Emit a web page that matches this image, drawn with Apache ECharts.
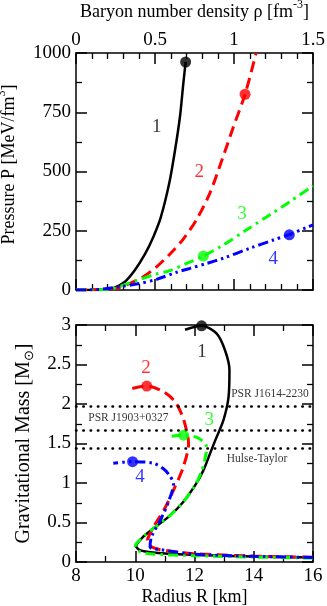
<!DOCTYPE html>
<html><head><meta charset="utf-8">
<script src="https://cdn.jsdelivr.net/npm/echarts@6/dist/echarts.min.js"></script>
<style>html,body{margin:0;padding:0;background:#fff}#c{width:327px;height:606px}</style>
</head><body><div id="c"></div>
<script>
// ---------- DATA ----------
// Top panel: [baryon density rho (fm^-3), pressure P (MeV/fm^3)]
const eos1Pressure = [[0,0],[0.1,0.5],[0.17,2],[0.236,8],[0.31,35],[0.373,84],[0.437,152],[0.49,225],[0.536,305],[0.59,450],[0.627,591],[0.658,731],[0.679,870],[0.694,962]];
const eos2Pressure = [[0,0],[0.1,0.5],[0.17,2],[0.258,8],[0.342,28],[0.426,56],[0.51,98],[0.595,152],[0.679,215],[0.764,298],[0.848,410],[0.922,545],[0.996,688],[1.07,826],[1.14,1000]];
const eos3Pressure = [[0,0],[0.1,0.5],[0.17,2],[0.236,6],[0.32,25],[0.405,45],[0.49,64],[0.595,82],[0.7,112],[0.806,143],[0.932,190],[1.08,254],[1.228,318],[1.354,373],[1.5,439]];
const eos4Pressure = [[0,0],[0.1,1],[0.17,4],[0.278,14],[0.384,25],[0.51,45],[0.637,75],[0.72,91],[0.827,112],[0.932,134],[1.1,176],[1.249,211],[1.35,234],[1.46,264],[1.5,275]];
const pressureDots = [[0.694,962],[1.07,826],[0.806,143],[1.35,233]];
const pressureLabels = [[0.511,689,'1'],[0.78,499,'2'],[1.05,321,'3'],[1.249,130,'4']];

// Bottom panel: [radius R (km), gravitational mass (Msun)]
const eos1Mass = [[16,0.056],[14,0.07],[12.5,0.085],[11.74,0.094],[10.6,0.12],[10.16,0.15],[10.03,0.2],[10.27,0.32],[10.67,0.44],[11.18,0.59],[11.62,0.76],[12.02,0.97],[12.3,1.16],[12.5,1.35],[12.7,1.54],[12.98,1.8],[13.15,2.09],[13.18,2.43],[13.03,2.68],[12.75,2.89],[12.24,2.99],[11.68,2.94]];
const eos2Mass = [[16,0.06],[14,0.075],[11.96,0.106],[10.95,0.15],[10.56,0.19],[10.41,0.275],[10.5,0.36],[10.72,0.51],[11.0,0.68],[11.34,0.95],[11.62,1.2],[11.8,1.5],[11.74,1.65],[11.6,1.84],[11.34,2.03],[10.95,2.155],[10.39,2.227],[9.77,2.185]];
const eos3Mass = [[16,0.05],[14,0.062],[12,0.08],[10.6,0.1],[10.16,0.13],[10.0,0.2],[10.27,0.32],[10.67,0.44],[11.18,0.59],[11.62,0.76],[12.02,0.97],[12.25,1.16],[12.35,1.3],[12.41,1.44],[12.36,1.5],[12.08,1.577],[11.63,1.606],[11.23,1.593]];
const eos4Mass = [[16,0.058],[14,0.072],[12,0.1],[10.84,0.157],[10.5,0.19],[10.55,0.32],[10.9,0.57],[11.12,0.76],[11.29,0.99],[11.15,1.1],[10.95,1.18],[10.61,1.25],[9.91,1.27],[9.26,1.25]];
const massDots = [[12.24,2.99],[10.39,2.227],[11.63,1.606],[9.91,1.27]];
const massLabels = [[12.25,2.66,'1'],[10.36,2.45,'2'],[12.5,1.80,'3'],[10.16,1.08,'4']];

const pulsarMasses = [1.97, 1.667, 1.44];
const pulsarLabels = [[14.55,2.125,'PSR J1614-2230'],[9.77,1.82,'PSR J1903+0327'],[14.11,1.30,'Hulse-Taylor']];

const colors = ['#000000','#ff0000','#00ff00','#0000ff'];
const dashes = ['solid',[11,6],[10,5,2.5,5],[10,4,2.5,4,2.5,4]];
const widths = [2.5,3,3,3];

// ---------- OPTION ----------
const FONT = 'Liberation Serif';
function axis(gridIndex, position, min, max, interval, minorSplit, showLabel, extra) {
  return Object.assign({
    type: 'value', gridIndex, position, min, max, interval,
    axisLine: {show: true, onZero: false, lineStyle: {color: '#000', width: 1.5}},
    axisTick: {show: true, inside: true, length: 11, lineStyle: {color: '#000', width: 1.5}},
    minorTick: {show: true, splitNumber: minorSplit, length: 6, lineStyle: {color: '#000', width: 1.3}},
    splitLine: {show: false}, minorSplitLine: {show: false},
    axisLabel: {show: showLabel, color: '#000', fontFamily: FONT, fontSize: 19, margin: 5,
      showMinLabel: true, showMaxLabel: true, hideOverlap: false, formatter: v => String(v)},
  }, extra || {});
}
const nameStyle = (size, rich, lh) => ({color: '#000', fontFamily: FONT, fontSize: size, lineHeight: lh || 26, rich});
const supStyle = {fontFamily: FONT, fontSize: 12, lineHeight: 12, verticalAlign: 'top', color: '#000'};

const series = [];
const topData = [eos1Pressure, eos2Pressure, eos3Pressure, eos4Pressure];
const botData = [eos1Mass, eos2Mass, eos3Mass, eos4Mass];
[0,1,2,3].forEach(i => {
  series.push({type: 'line', xAxisIndex: 0, yAxisIndex: 0, data: topData[i], smooth: 0.3, showSymbol: false,
    lineStyle: {color: colors[i], width: widths[i], type: dashes[i]}, z: 2 + i});
  series.push({type: 'line', xAxisIndex: 2, yAxisIndex: 2, data: botData[i], smooth: 0.3, showSymbol: false,
    lineStyle: {color: colors[i], width: widths[i], type: dashes[i]}, z: 2 + i});
});
series.push({type: 'scatter', xAxisIndex: 0, yAxisIndex: 0, symbolSize: 11, z: 10,
  data: pressureDots.map((p, i) => ({value: p, itemStyle: {color: colors[i]}}))});
series.push({type: 'scatter', xAxisIndex: 2, yAxisIndex: 2, symbolSize: 11, z: 10,
  data: massDots.map((p, i) => ({value: p, itemStyle: {color: colors[i]}}))});
const labelSeries = (xi, yi, arr) => ({type: 'scatter', xAxisIndex: xi, yAxisIndex: yi, symbolSize: 1, z: 11,
  itemStyle: {color: 'rgba(0,0,0,0)'}, silent: true,
  data: arr.map((p, i) => ({value: [p[0], p[1]], name: p[2],
    label: {show: true, position: 'inside', formatter: '{b}', color: colors[i], fontFamily: FONT, fontSize: 19}}))});
series.push(labelSeries(0, 0, pressureLabels));
series.push(labelSeries(2, 2, massLabels));
series.push({type: 'scatter', xAxisIndex: 2, yAxisIndex: 2, symbolSize: 1, z: 11, silent: true,
  itemStyle: {color: 'rgba(0,0,0,0)'},
  data: pulsarLabels.map(p => ({value: [p[0], p[1]], name: p[2],
    label: {show: true, position: 'inside', formatter: '{b}', color: '#000', fontFamily: FONT, fontSize: 11.5}})),
  markLine: {silent: true, symbol: 'none', label: {show: false}, animation: false,
    lineStyle: {color: '#000', width: 2.5, type: [0.5, 6.8], cap: 'round'},
    data: pulsarMasses.map(m => ({yAxis: m}))}});

const option = {
  animation: false,
  backgroundColor: '#fff',
  grid: [
    {left: 76, right: 14, top: 53, height: 237, containLabel: false, outerBoundsMode: 'none'},
    {left: 76, right: 14, top: 325, height: 237, containLabel: false, outerBoundsMode: 'none'}
  ],
  xAxis: [
    axis(0, 'top', 0, 1.5, 0.5, 5, true, {name: 'Baryon number density ρ [fm{sup|-3}]', nameLocation: 'middle', nameGap: 28,
      nameTextStyle: nameStyle(18, {sup: supStyle}),
      axisLabel: {show: true, color: '#000', fontFamily: FONT, fontSize: 19, margin: 3, formatter: v => String(v)}}),
    axis(0, 'bottom', 0, 1.5, 0.5, 5, false),
    axis(1, 'bottom', 8, 16, 2, 2, true, {name: 'Radius R [km]', nameLocation: 'middle', nameGap: 25, nameTextStyle: nameStyle(18, undefined, 20)}),
    axis(1, 'top', 8, 16, 2, 2, false)
  ],
  yAxis: [
    axis(0, 'left', 0, 1000, 250, 2, true, {name: 'Pressure P [MeV/fm{sup|3}]', nameLocation: 'middle', nameRotate: 90, nameGap: 38,
      nameTextStyle: Object.assign(nameStyle(18, {sup: supStyle}), {padding: [0,0,0,14]})}),
    axis(0, 'right', 0, 1000, 250, 2, false),
    axis(1, 'left', 0, 3, 0.5, 2, true, {name: 'Gravitational Mass [M{sub|⊙}]', nameLocation: 'middle', nameRotate: 90, nameGap: 36,
      nameTextStyle: nameStyle(20, {sub: {fontFamily: FONT, fontSize: 13, lineHeight: 13, verticalAlign: 'bottom', color: '#000'}})}),
    axis(1, 'right', 0, 3, 0.5, 2, false)
  ],
  series
};
const chart = echarts.init(document.getElementById('c'), null, {renderer: 'canvas'});
chart.setOption(option);
</script></body></html>
